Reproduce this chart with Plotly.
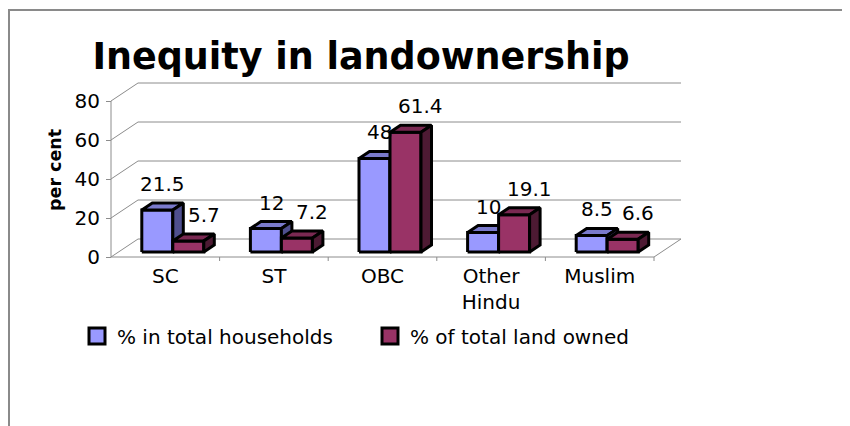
import plotly.graph_objects as go

# ---------------- data ----------------
categories = ["SC", "ST", "OBC", "Other<br>Hindu", "Muslim"]
households = [21.5, 12, 48, 10, 8.5]
land_owned = [5.7, 7.2, 61.4, 19.1, 6.6]
y_ticks = [0, 20, 40, 60, 80]
series_names = ["% in total households", "% of total land owned"]
title_text = "Inequity in landownership"
y_title = "per cent"

# ---------------- styling / geometry ----------------
# the page body has an 8px margin, so the figure is 842x418 and
# positions below are in figure pixels (reference pixels minus 8)
OFF = 8
W, H = 850 - OFF, 426 - OFF
X0_PX, CAT_PX = 111 - OFF, 108.6      # left end of floor front edge, px per category
Y0_PX, UNIT_PX = 257 - OFF, 1.95      # floor front edge, px per percent unit
FONT = "DejaVu Sans"
GRID = "#8c8c8c"

front_cols = ["#9999FF", "#993366"]
top_cols = ["#7a7acc", "#7a2952"]
side_cols = ["#4f4f8f", "#4d1a33"]


def px_to_x(px):
    return (px - X0_PX) / CAT_PX - 0.5


def py_to_y(py):
    return (Y0_PX - py) / UNIT_PX


depth = (27 / CAT_PX, 18 / UNIT_PX)       # full floor depth
bar_off = (7.5 / CAT_PX, 5 / UNIT_PX)     # bar front plane offset
bar_dep = (10.5 / CAT_PX, 7 / UNIT_PX)    # bar depth
bar_w = 31 / CAT_PX

n = len(categories)
x_left, x_right = -0.5, n - 0.5
ymax = max(y_ticks)

fig = go.Figure()

# back wall gridlines + left wall diagonals
gx, gy = [], []
for v in y_ticks:
    gx += [x_left, x_left + depth[0], x_right + depth[0], None]
    gy += [v, v + depth[1], v + depth[1], None]
# floor front edge and right edge
gx += [x_left, x_right, x_right + depth[0], None]
gy += [0, 0, depth[1], None]
# front vertical axis line
gx += [x_left, x_left, None]
gy += [0, ymax, None]
# category boundary ticks
for k in range(n):
    gx += [k + 0.5, k + 0.5, None]
    gy += [0, -4 / UNIT_PX, None]
fig.add_trace(go.Scatter(x=gx, y=gy, mode="lines", line=dict(color=GRID, width=1),
                         hoverinfo="skip", showlegend=False))


def add_poly(xs, ys, color):
    fig.add_trace(go.Scatter(x=xs + [xs[0]], y=ys + [ys[0]], mode="lines", fill="toself",
                             fillcolor=color, line=dict(color="black", width=3),
                             hoverinfo="skip", showlegend=False))


series = [households, land_owned]
annotations = []
for i in range(n):
    for s, vals in enumerate(series):
        v = vals[i]
        xl = i + bar_off[0] - bar_w + s * bar_w
        xr = xl + bar_w
        b = bar_off[1]
        t = b + v
        dx, dy = bar_dep
        add_poly([xl, xr, xr, xl], [b, b, t, t], front_cols[s])
        add_poly([xl, xr, xr + dx, xl + dx], [t, t, t + dy, t + dy], top_cols[s])
        add_poly([xr, xr + dx, xr + dx, xr], [b, b + dy, t + dy, t], side_cols[s])
        annotations.append(dict(
            x=(xl + xr) / 2 + dx / 2, y=t, xref="x", yref="y",
            text=f"{v:g}", showarrow=False, yshift=26, xshift=(10 if s == 1 else 0),
            font=dict(family=FONT, size=20, color="black")))

# legend entries
for s in range(2):
    fig.add_trace(go.Scatter(x=[None], y=[None], mode="markers", name=series_names[s],
                             marker=dict(symbol="square", size=16, color=front_cols[s],
                                         line=dict(color="black", width=3))))

annotations.append(dict(x=(55 - OFF) / W, y=1 - (170 - OFF) / H, xref="paper", yref="paper",
                        xanchor="center", yanchor="middle",
                        text=f"<b>{y_title}</b>", textangle=-90, showarrow=False,
                        font=dict(family=FONT, size=17.5, color="black")))

fig.update_layout(
    width=W, height=H,
    margin=dict(l=0, r=0, t=0, b=0),
    paper_bgcolor="white", plot_bgcolor="rgba(0,0,0,0)",
    title=dict(text=f"<b>{title_text}</b>", x=(361 - OFF) / W, xanchor="center", xref="container",
               y=1 - (56 - OFF) / H, yanchor="middle", yref="container",
               font=dict(family=FONT, size=36.5, color="black")),
    xaxis=dict(range=[px_to_x(0), px_to_x(W)], tickvals=list(range(n)), ticktext=categories,
               showgrid=False, zeroline=False, showline=False, ticks="",
               anchor="free", position=1 - Y0_PX / H, ticklabelstandoff=5,
               tickfont=dict(family=FONT, size=20, color="black")),
    yaxis=dict(range=[py_to_y(H), py_to_y(0)], tickvals=y_ticks,
               showgrid=False, zeroline=False, showline=False,
               ticks="outside", ticklen=5, tickcolor=GRID,
               anchor="free", position=X0_PX / W, ticklabelstandoff=2,
               tickfont=dict(family=FONT, size=20, color="black")),
    showlegend=True,
    legend=dict(orientation="h", x=(77 - OFF) / W, xanchor="left", y=1 - (336 - OFF) / H,
                yanchor="middle",
                font=dict(family=FONT, size=20, color="black"),
                entrywidth=248, entrywidthmode="pixels", bgcolor="rgba(0,0,0,0)"),
    annotations=annotations,
    shapes=[
        dict(type="line", xref="paper", yref="paper", x0=0, x1=1, y0=1 - 2 / H, y1=1 - 2 / H,
             line=dict(color="#8a8a8a", width=2)),
        dict(type="line", xref="paper", yref="paper", x0=1 / W, x1=1 / W, y0=0, y1=1 - 2 / H,
             line=dict(color="#8a8a8a", width=2)),
    ],
)

fig.write_html("out.html")
